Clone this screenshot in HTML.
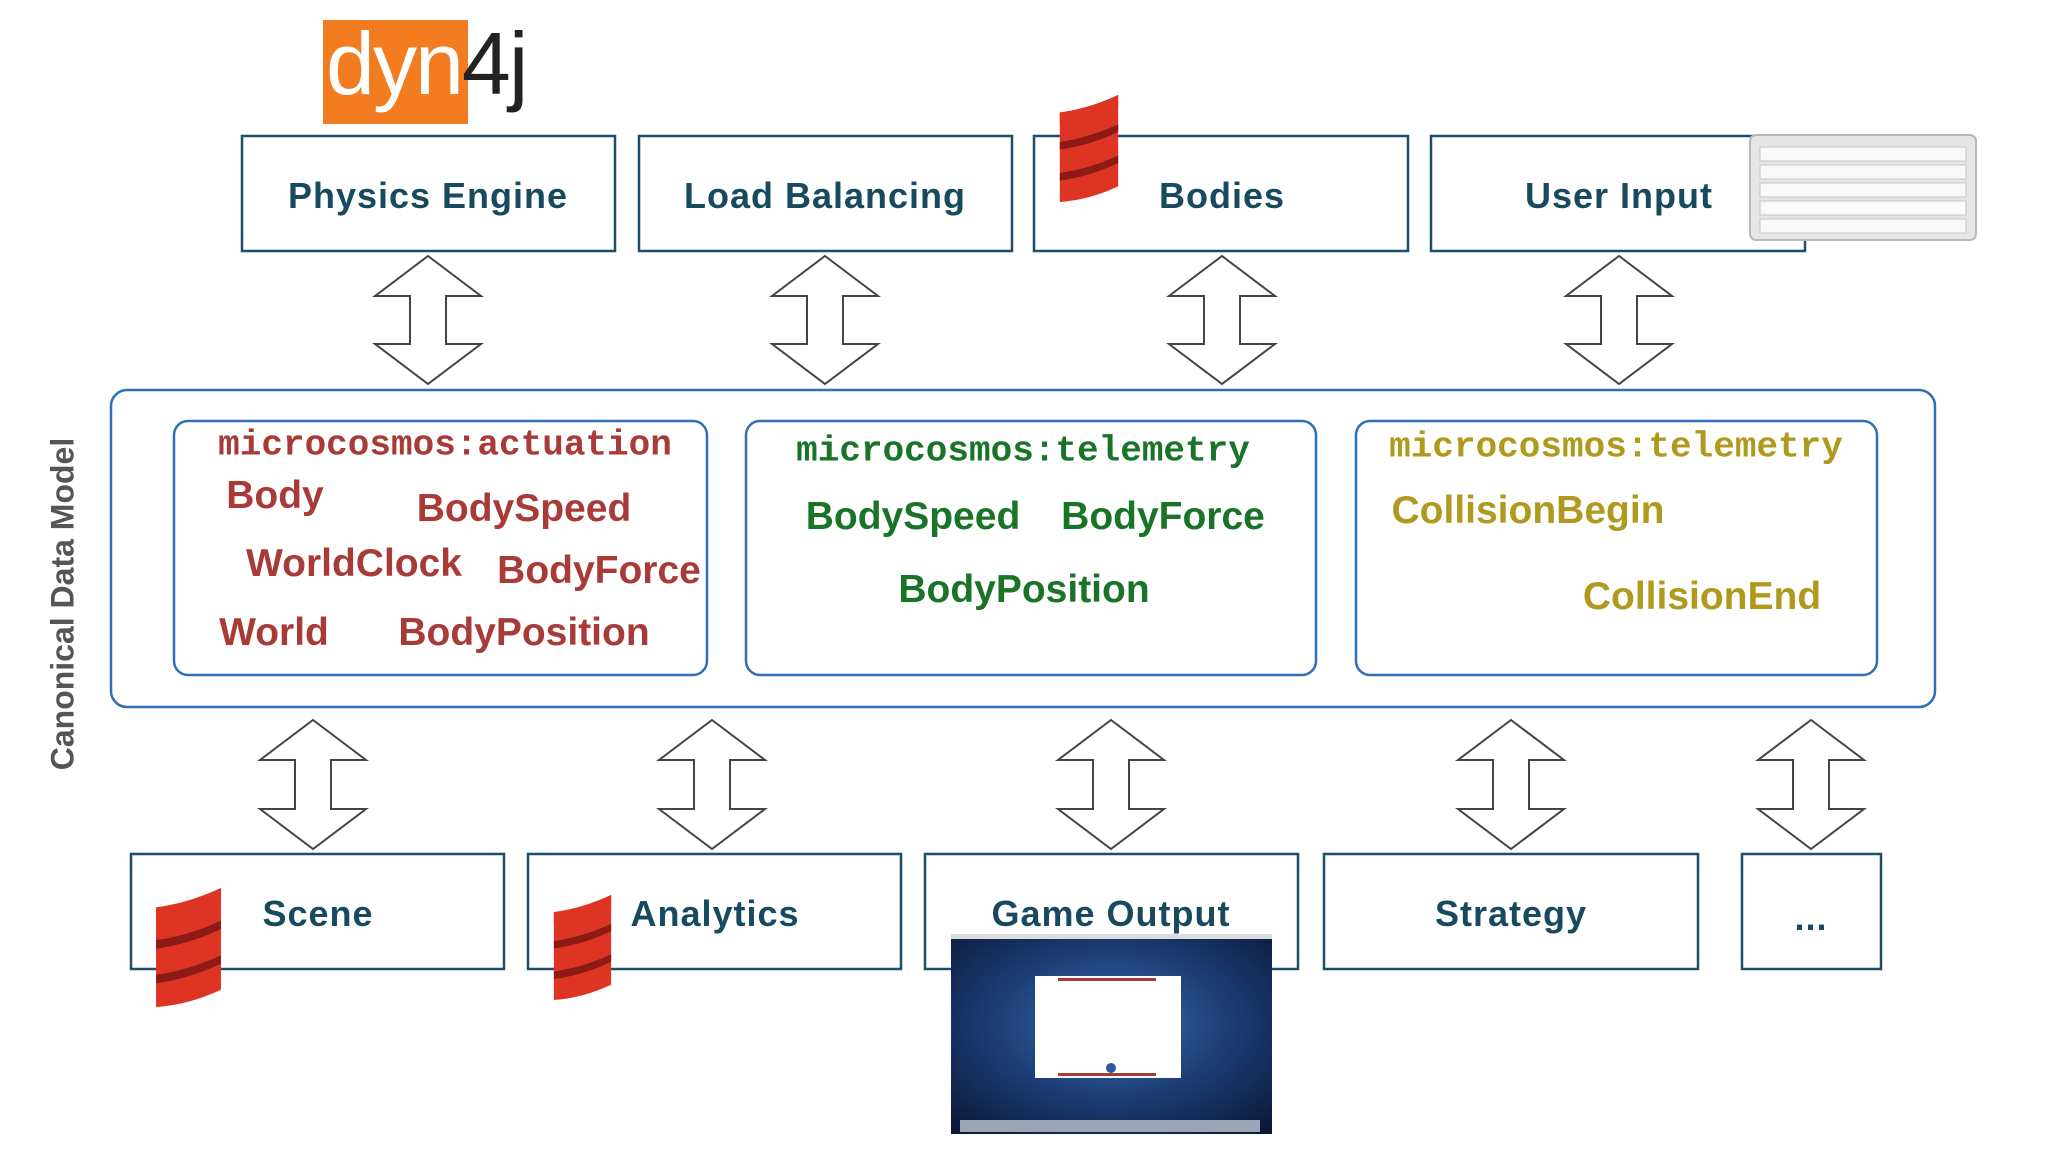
<!DOCTYPE html>
<html><head><meta charset="utf-8"><style>
body{margin:0;width:2048px;height:1152px;background:#fff;position:relative;overflow:hidden;font-family:"Liberation Sans",Arial,sans-serif}
.t{position:absolute;white-space:nowrap;transform:translate(-50%,-50%)}
.bx{font-weight:bold;font-size:36px;color:#174a5e;letter-spacing:1px}
.mono{font-family:"Liberation Mono",monospace;font-weight:bold;font-size:36px}
.w{font-size:39px;font-weight:bold}
.r{color:#a83b38}.g{color:#1a7428}.y{color:#b09a1e}
</style></head><body>
<svg width="2048" height="1152" style="position:absolute;left:0;top:0">
<defs>
<symbol id="scala" viewBox="0 0 68 110">
<path d="M4 30 Q34 26 64 12 L64 0 Q34 14 4 18Z" fill="#b5201a"/>
<path d="M4 18 Q34 14 64 0 L64 30 Q34 44 4 48Z" fill="#de3423"/>
<path d="M4 48 Q34 44 64 30 L64 62 Q34 76 4 80Z" fill="#de3423"/>
<path d="M4 80 Q34 76 64 62 L64 94 Q34 108 4 110Z" fill="#de3423"/>
<path d="M4 48 Q34 44 64 30 L64 38 Q34 52 4 56Z" fill="#8e1a15"/>
<path d="M4 80 Q34 76 64 62 L64 70 Q34 84 4 88Z" fill="#8e1a15"/>
</symbol>
</defs>
<g fill="#fff" stroke="#1d4f6a" stroke-width="2.5">
<rect x="242" y="136" width="373" height="115"/>
<rect x="639" y="136" width="373" height="115"/>
<rect x="1034" y="136" width="374" height="115"/>
<rect x="1431" y="136" width="374" height="115"/>
<rect x="131" y="854" width="373" height="115"/>
<rect x="528" y="854" width="373" height="115"/>
<rect x="925" y="854" width="373" height="115"/>
<rect x="1324" y="854" width="374" height="115"/>
<rect x="1742" y="854" width="139" height="115"/>
</g>
<rect x="111" y="390" width="1824" height="317" rx="16" fill="#fff" stroke="#2f6fb3" stroke-width="2.5"/>
<g fill="#fff" stroke="#2f6fb3" stroke-width="2.5">
<rect x="174" y="421" width="533" height="254" rx="14"/>
<rect x="746" y="421" width="570" height="254" rx="14"/>
<rect x="1356" y="421" width="521" height="254" rx="14"/>
</g>
<g fill="#fff" stroke="#444" stroke-width="2">
<path id="a1" d="M428 256 L481 296 L446 296 L446 344 L481 344 L428 384 L375 344 L410 344 L410 296 L375 296Z"/>
<use href="#a1" x="397"/><use href="#a1" x="794"/><use href="#a1" x="1191"/>
<path id="b1" d="M313 720 L366 760 L331 760 L331 809 L366 809 L313 849 L260 809 L295 809 L295 760 L260 760Z"/>
<use href="#b1" x="399"/><use href="#b1" x="798"/><use href="#b1" x="1198"/><use href="#b1" x="1498"/>
</g>
<rect x="323" y="20" width="145" height="104" fill="#f47c20"/>
<use href="#scala" x="1055" y="95" width="68" height="107"/>
<use href="#scala" x="151" y="888" width="75" height="119"/>
<use href="#scala" x="549" y="895" width="67" height="105"/>
<rect x="1750" y="135" width="226" height="105" rx="6" fill="#e6e6e8" stroke="#b8b8bc" stroke-width="2"/>
<g fill="#fafafa" stroke="#c4c4c8" stroke-width="1">
<rect x="1760" y="147" width="206" height="14"/><rect x="1760" y="165" width="206" height="14"/><rect x="1760" y="183" width="206" height="14"/><rect x="1760" y="201" width="206" height="14"/><rect x="1760" y="219" width="206" height="14"/>
</g>
<defs><radialGradient id="sp" cx="0.5" cy="0.45" r="0.7"><stop offset="0" stop-color="#3d6fb0"/><stop offset="0.5" stop-color="#1d3f78"/><stop offset="1" stop-color="#0c1a3a"/></radialGradient></defs>
<rect x="951" y="934" width="321" height="200" fill="url(#sp)"/>
<rect x="951" y="934" width="321" height="5" fill="#ddd"/>
<rect x="1035" y="976" width="146" height="102" fill="#fff"/>
<rect x="1058" y="978" width="98" height="3" fill="#a83b38"/>
<rect x="1058" y="1073" width="98" height="3" fill="#a83b38"/>
<circle cx="1111" cy="1068" r="5" fill="#2a5aa0"/>
<rect x="960" y="1120" width="300" height="12" fill="#9aa6b8"/>
</svg>
<div style="position:absolute;left:326px;top:14px;font-size:88px;line-height:100px;letter-spacing:-2px;white-space:nowrap"><span style="color:#fff">dyn</span><span style="color:#222">4j</span></div>
<div class="t bx" style="left:428px;top:196px">Physics Engine</div>
<div class="t bx" style="left:825px;top:196px">Load Balancing</div>
<div class="t bx" style="left:1222px;top:196px">Bodies</div>
<div class="t bx" style="left:1619px;top:196px">User Input</div>
<div class="t bx" style="left:318px;top:914px">Scene</div>
<div class="t bx" style="left:715px;top:914px">Analytics</div>
<div class="t bx" style="left:1111px;top:914px">Game Output</div>
<div class="t bx" style="left:1511px;top:914px">Strategy</div>
<div class="t bx" style="left:1811px;top:918px">...</div>
<div class="t" style="left:63px;top:604px;transform:translate(-50%,-50%) rotate(-90deg);font-weight:bold;font-size:32px;color:#555">Canonical Data Model</div>
<div class="t mono r" style="left:445px;top:445px">microcosmos:actuation</div>
<div class="t w r" style="left:275px;top:496px">Body</div>
<div class="t w r" style="left:524px;top:509px">BodySpeed</div>
<div class="t w r" style="left:354px;top:564px">WorldClock</div>
<div class="t w r" style="left:599px;top:571px">BodyForce</div>
<div class="t w r" style="left:274px;top:633px">World</div>
<div class="t w r" style="left:524px;top:633px">BodyPosition</div>
<div class="t mono g" style="left:1023px;top:451px">microcosmos:telemetry</div>
<div class="t w g" style="left:913px;top:517px">BodySpeed</div>
<div class="t w g" style="left:1163px;top:517px">BodyForce</div>
<div class="t w g" style="left:1024px;top:590px">BodyPosition</div>
<div class="t mono y" style="left:1616px;top:447px">microcosmos:telemetry</div>
<div class="t w y" style="left:1528px;top:511px">CollisionBegin</div>
<div class="t w y" style="left:1702px;top:597px">CollisionEnd</div>
</body></html>
